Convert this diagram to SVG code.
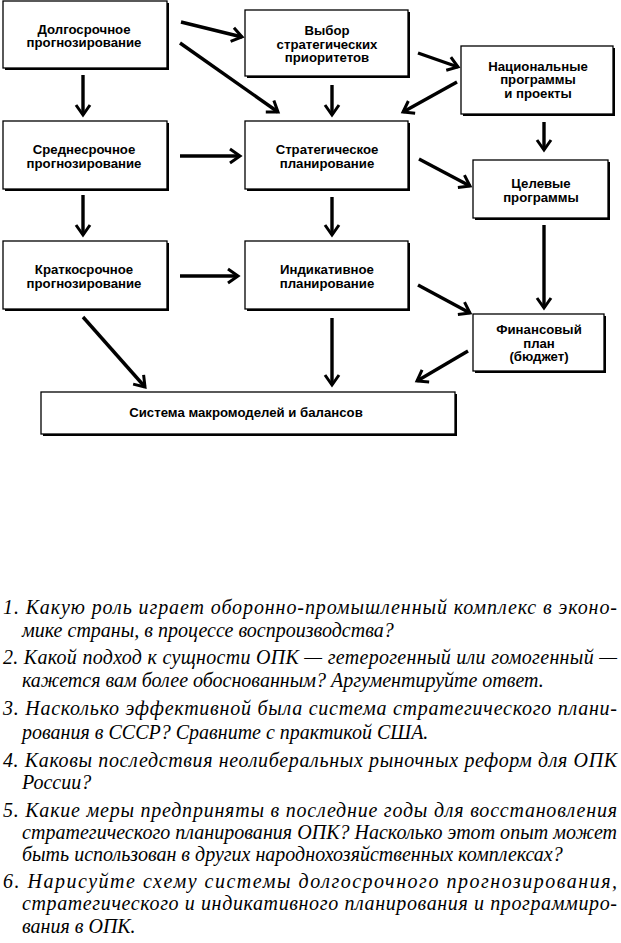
<svg xmlns="http://www.w3.org/2000/svg" width="621" height="943" viewBox="0 0 621 943">
<style>
.sh{fill:#000}
.bx{fill:#fff;stroke:#000;stroke-width:1.3}
.t{font-family:"Liberation Sans",Arial,sans-serif;font-weight:bold;font-size:13.2px;text-anchor:middle;fill:#000}
.c line{stroke:#000;stroke-width:3.4;marker-end:url(#ah)}
.q{font-family:"Liberation Serif","Times New Roman",serif;font-style:italic;font-size:20px;fill:#000}
</style>
<defs>
<marker id="ah" viewBox="-14 -10 16 20" refX="0" refY="0" markerWidth="16" markerHeight="20" markerUnits="userSpaceOnUse" orient="auto" overflow="visible">
<path d="M-10,-7 L0,0 L-10,7" fill="none" stroke="#000" stroke-width="3" stroke-linejoin="miter"/>
</marker>
</defs>
<g id="n1"><rect class="sh" x="5" y="3" width="164" height="67"/><rect class="bx" x="3" y="1" width="164" height="67"/>
<text class="t" x="84" y="33.5">Долгосрочное</text><text class="t" x="84" y="47">прогнозирование</text></g>
<g id="n2"><rect class="sh" x="247" y="12" width="163" height="66"/><rect class="bx" x="245" y="10" width="163" height="66"/>
<text class="t" x="327" y="35">Выбор</text><text class="t" x="327" y="48.5">стратегических</text><text class="t" x="327" y="62">приоритетов</text></g>
<g id="n3"><rect class="sh" x="463" y="48" width="152" height="68"/><rect class="bx" x="461" y="46" width="152" height="68"/>
<text class="t" x="538" y="70.5">Национальные</text><text class="t" x="538" y="84">программы</text><text class="t" x="538" y="97.5">и проекты</text></g>
<g id="n4"><rect class="sh" x="5" y="123" width="164" height="68"/><rect class="bx" x="3" y="121" width="164" height="68"/>
<text class="t" x="84" y="154">Среднесрочное</text><text class="t" x="84" y="167.5">прогнозирование</text></g>
<g id="n5"><rect class="sh" x="247" y="123" width="163" height="68"/><rect class="bx" x="245" y="121" width="163" height="68"/>
<text class="t" x="327" y="154">Стратегическое</text><text class="t" x="327" y="167.5">планирование</text></g>
<g id="n6"><rect class="sh" x="475" y="162" width="135" height="58"/><rect class="bx" x="473" y="160" width="135" height="58"/>
<text class="t" x="541" y="188">Целевые</text><text class="t" x="541" y="201.5">программы</text></g>
<g id="n7"><rect class="sh" x="5" y="243" width="164" height="68"/><rect class="bx" x="3" y="241" width="164" height="68"/>
<text class="t" x="84" y="274">Краткосрочное</text><text class="t" x="84" y="287.5">прогнозирование</text></g>
<g id="n8"><rect class="sh" x="247" y="243" width="163" height="68"/><rect class="bx" x="245" y="241" width="163" height="68"/>
<text class="t" x="327" y="274">Индикативное</text><text class="t" x="327" y="287.5">планирование</text></g>
<g id="n9"><rect class="sh" x="475" y="316" width="131" height="57"/><rect class="bx" x="473" y="314" width="131" height="57"/>
<text class="t" x="539" y="334">Финансовый</text><text class="t" x="539" y="347.5">план</text><text class="t" x="539" y="361">(бюджет)</text></g>
<g id="n10"><rect class="sh" x="43" y="394" width="414" height="42"/><rect class="bx" x="41" y="392" width="414" height="42"/>
<text class="t" x="246" y="417">Система макромоделей и балансов</text></g>
<g id="connectors" class="c">
<line x1="181" y1="22" x2="242" y2="37"/>
<line x1="180" y1="43" x2="278" y2="112"/>
<line x1="83" y1="75" x2="83" y2="115"/>
<line x1="180" y1="156" x2="240" y2="156"/>
<line x1="83" y1="195" x2="83" y2="235"/>
<line x1="332" y1="85" x2="332" y2="115"/>
<line x1="418" y1="53" x2="458" y2="67"/>
<line x1="457" y1="82" x2="403" y2="112"/>
<line x1="544" y1="122" x2="544" y2="150"/>
<line x1="419" y1="159" x2="470" y2="186"/>
<line x1="332" y1="197" x2="332" y2="235"/>
<line x1="180" y1="276" x2="238" y2="276"/>
<line x1="83" y1="317" x2="145" y2="387"/>
<line x1="544" y1="225" x2="544" y2="308"/>
<line x1="418" y1="285" x2="470" y2="313"/>
<line x1="332" y1="318" x2="332" y2="385"/>
<line x1="468" y1="351" x2="417" y2="381"/>
</g>
<g id="questions">
<text class="q" x="3" y="614" textLength="614" lengthAdjust="spacing">1. Какую роль играет оборонно-промышленный комплекс в эконо-</text>
<text class="q" x="22" y="637">мике страны, в процессе воспроизводства?</text>
<text class="q" x="3" y="664" textLength="614" lengthAdjust="spacing">2. Какой подход к сущности ОПК — гетерогенный или гомогенный —</text>
<text class="q" x="22" y="687">кажется вам более обоснованным? Аргументируйте ответ.</text>
<text class="q" x="3" y="715" textLength="614" lengthAdjust="spacing">3. Насколько эффективной была система стратегического плани-</text>
<text class="q" x="22" y="739">рования в СССР? Сравните с практикой США.</text>
<text class="q" x="3" y="767" textLength="614" lengthAdjust="spacing">4. Каковы последствия неолиберальных рыночных реформ для ОПК</text>
<text class="q" x="22" y="789">России?</text>
<text class="q" x="3" y="817" textLength="614" lengthAdjust="spacing">5. Какие меры предприняты в последние годы для восстановления</text>
<text class="q" x="22" y="839" textLength="595" lengthAdjust="spacing">стратегического планирования ОПК? Насколько этот опыт может</text>
<text class="q" x="22" y="861">быть использован в других народнохозяйственных комплексах?</text>
<text class="q" x="3" y="888" textLength="614" lengthAdjust="spacing">6. Нарисуйте схему системы долгосрочного прогнозирования,</text>
<text class="q" x="22" y="910" textLength="595" lengthAdjust="spacing">стратегического и индикативного планирования и программиро-</text>
<text class="q" x="22" y="933">вания в ОПК.</text>
</g>
</svg>
